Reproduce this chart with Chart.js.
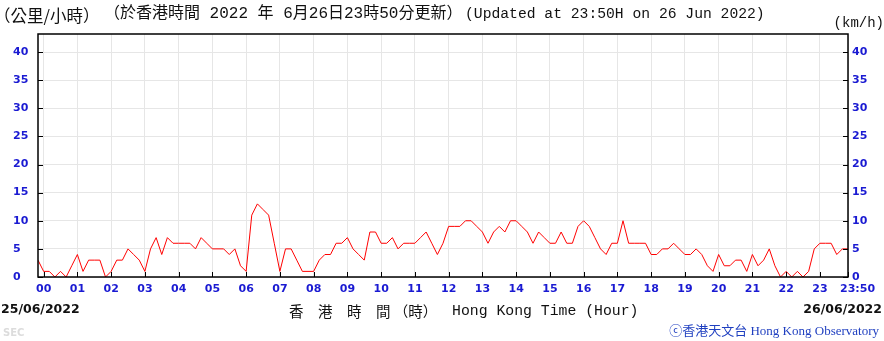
<!DOCTYPE html>
<html>
<head>
<meta charset="utf-8">
<script src="https://cdn.jsdelivr.net/npm/chart.js@4/dist/chart.umd.min.js"></script>
<style>
  html, body { margin: 0; padding: 0; background: #fff; }
</style>
</head>
<body>
<canvas id="chart" width="884" height="341"></canvas>
<script>
// 10-minute mean wind speed (km/h), from 23:50 on 25/06 to 23:50 on 26/06
const startMinute = -10;
const stepMinutes = 10;
const speeds = [
  3, 1, 1, 0, 1, 0, 2, 4, 1, 3, 3, 3, 0, 1, 3, 3, 5, 4, 3, 1,
  5, 7, 4, 7, 6, 6, 6, 6, 5, 7, 6, 5, 5, 5, 4, 5, 2, 1, 11, 13,
  12, 11, 6, 1, 5, 5, 3, 1, 1, 1, 3, 4, 4, 6, 6, 7, 5, 4, 3, 8,
  8, 6, 6, 7, 5, 6, 6, 6, 7, 8, 6, 4, 6, 9, 9, 9, 10, 10, 9, 8,
  6, 8, 9, 8, 10, 10, 9, 8, 6, 8, 7, 6, 6, 8, 6, 6, 9, 10, 9, 7,
  5, 4, 6, 6, 10, 6, 6, 6, 6, 4, 4, 5, 5, 6, 5, 4, 4, 5, 4, 2,
  1, 4, 2, 2, 3, 3, 1, 4, 2, 3, 5, 2, 0, 1, 0, 1, 0, 1, 5, 6,
  6, 6, 4, 5, 5
];
const tickMinutes = [0, 60, 120, 180, 240, 300, 360, 420, 480, 540, 600, 660, 720,
  780, 840, 900, 960, 1020, 1080, 1140, 1200, 1260, 1320, 1380, 1430];
const tickLabels = ['00', '01', '02', '03', '04', '05', '06', '07', '08', '09', '10', '11', '12',
  '13', '14', '15', '16', '17', '18', '19', '20', '21', '22', '23', '23:50'];
const yTicks = [0, 5, 10, 15, 20, 25, 30, 35, 40];

const blue = '#1a1ad2';
const tickFont = { family: 'DejaVu Sans', weight: 'bold', size: 11 };
const points = speeds.map((v, i) => ({ x: startMinute + i * stepMinutes, y: v }));

const frame = {
  id: 'frame',
  afterDraw(chart) {
    const { ctx, chartArea: a, scales } = chart;
    ctx.save();
    ctx.strokeStyle = '#000';
    ctx.lineWidth = 1.5;
    ctx.strokeRect(a.left, a.top, a.right - a.left, a.bottom - a.top);
    ctx.lineWidth = 1;
    ctx.beginPath();
    scales.x.ticks.forEach(t => {
      const px = Math.round(scales.x.getPixelForValue(t.value)) + 0.5;
      ctx.moveTo(px, a.bottom);
      ctx.lineTo(px, a.bottom - 5);
    });
    scales.y.ticks.forEach(t => {
      const py = Math.round(scales.y.getPixelForValue(t.value)) + 0.5;
      ctx.moveTo(a.left, py);
      ctx.lineTo(a.left + 5, py);
      ctx.moveTo(a.right, py);
      ctx.lineTo(a.right - 5, py);
    });
    ctx.stroke();

    ctx.textBaseline = 'middle';
    ctx.fillStyle = '#111';
    ctx.textAlign = 'left';
    ctx.font = '16.5px "Noto Sans CJK TC"';
    ctx.fillText('（公里/小時）', -6, 16);
    ctx.font = '16px "Liberation Mono", "Noto Sans CJK TC"';
    ctx.fillText('（於香港時間 2022 年 6月26日23時50分更新）', 104, 14);
    ctx.font = '14.7px "Liberation Mono"';
    ctx.fillText('(Updated at 23:50H on 26 Jun 2022)', 465, 14);
    ctx.textAlign = 'right';
    ctx.font = '14px "Liberation Mono"';
    ctx.fillText('(km/h)', 884, 23);

    ctx.font = 'bold 12.5px "DejaVu Sans"';
    ctx.textAlign = 'left';
    ctx.fillText('25/06/2022', 1, 310);
    ctx.textAlign = 'right';
    ctx.fillText('26/06/2022', 882, 310);

    ctx.textAlign = 'left';
    ctx.font = '14.5px "Noto Sans CJK TC"';
    ctx.fillText('香　港　時　間 （時）', 289, 311);
    ctx.font = '14.8px "Liberation Mono"';
    ctx.fillText('Hong Kong Time (Hour)', 452, 311);

    ctx.textAlign = 'right';
    ctx.fillStyle = '#1f3fc0';
    ctx.font = '13px "Liberation Serif", "Noto Sans CJK TC"';
    ctx.fillText('ⓒ香港天文台 Hong Kong Observatory', 879, 332);

    ctx.textAlign = 'left';
    ctx.fillStyle = '#dcdcdc';
    ctx.font = 'bold 10px "DejaVu Sans"';
    ctx.fillText('SEC', 3, 333);
    ctx.restore();
  }
};

new Chart(document.getElementById('chart'), {
  type: 'line',
  data: {
    datasets: [{
      data: points,
      borderColor: '#ff0000',
      borderWidth: 1,
      pointRadius: 0,
      tension: 0,
      fill: false
    }]
  },
  options: {
    responsive: false,
    animation: false,
    devicePixelRatio: 1,
    layout: { padding: { left: 13, top: 34, right: 0, bottom: 0 } },
    plugins: { legend: { display: false }, tooltip: { enabled: false } },
    scales: {
      x: {
        type: 'linear',
        min: startMinute,
        max: 1430,
        afterBuildTicks: s => { s.ticks = tickMinutes.map(v => ({ value: v })); },
        afterFit: s => { s.height = 64; },
        ticks: {
          autoSkip: false,
          maxRotation: 0,
          padding: 6,
          color: blue,
          font: tickFont,
          callback: (v, i) => i === tickLabels.length - 1 ? '     ' + tickLabels[i] : tickLabels[i]
        },
        grid: { color: '#e6e6e6', drawTicks: false },
        border: { display: false }
      },
      y: {
        position: 'left',
        min: 0,
        max: 43.2,
        afterBuildTicks: s => { s.ticks = yTicks.map(v => ({ value: v })); },
        afterFit: s => { s.width = 25; },
        ticks: { crossAlign: 'far', padding: 9, color: blue, font: tickFont },
        grid: { color: '#e6e6e6', drawTicks: false },
        border: { display: false }
      },
      y2: {
        position: 'right',
        min: 0,
        max: 43.2,
        afterBuildTicks: s => { s.ticks = yTicks.map(v => ({ value: v })); },
        afterFit: s => { s.width = 36; },
        ticks: { padding: 4, color: blue, font: tickFont },
        grid: { display: false, drawTicks: false },
        border: { display: false }
      }
    }
  },
  plugins: [frame]
});
</script>
</body>
</html>
